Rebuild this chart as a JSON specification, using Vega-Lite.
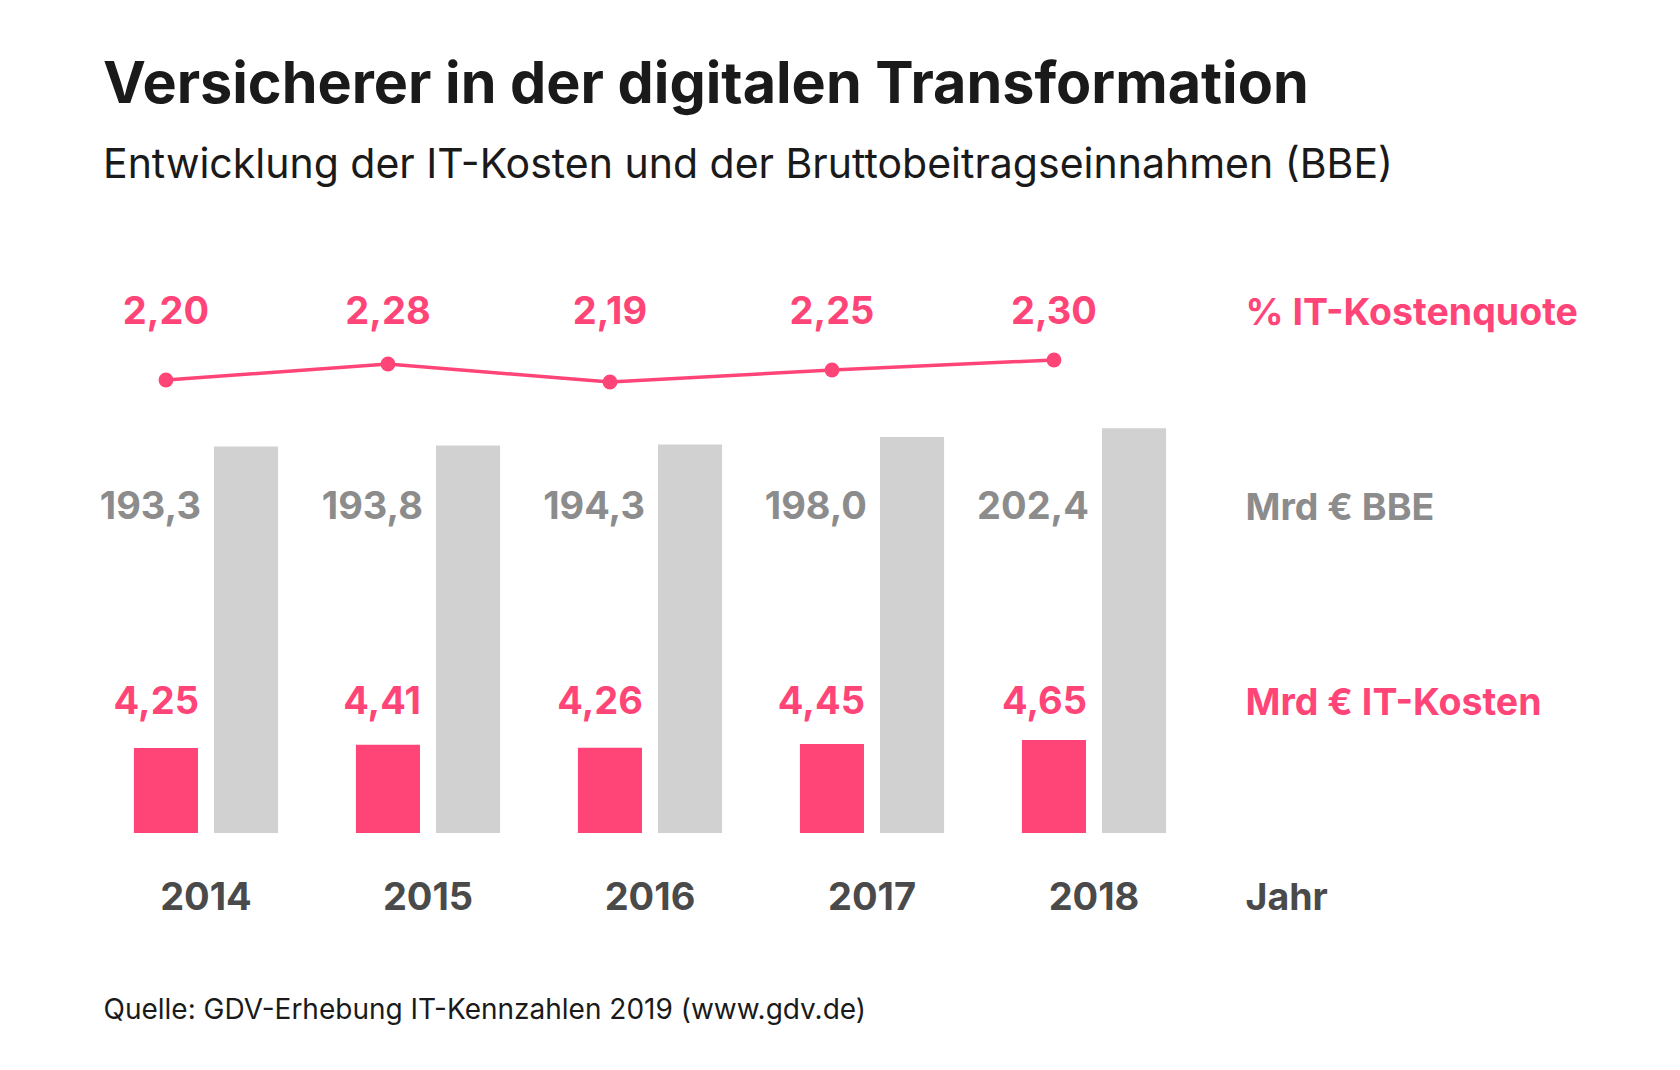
{
  "$schema": "https://vega.github.io/schema/vega-lite/v6.json",
  "autosize": "none",
  "width": 1245,
  "height": 668,
  "padding": {"left": 0, "top": 230, "right": 435, "bottom": 172},
  "background": "#ffffff",
  "title": {
    "text": "Versicherer in der digitalen Transformation",
    "subtitle": "Entwicklung der IT-Kosten und der Bruttobeitragseinnahmen (BBE)",
    "anchor": "start",
    "frame": "group",
    "dx": 103,
    "offset": 43,
    "subtitlePadding": 31,
    "font": "Inter",
    "fontSize": 57.5,
    "fontWeight": "bold",
    "color": "#1a1a1a",
    "subtitleFont": "Inter",
    "subtitleFontSize": 41,
    "subtitleFontWeight": "normal",
    "subtitleColor": "#1a1a1a"
  },
  "config": {
    "view": {"stroke": null},
    "font": "Inter",
    "locale": {"number": {"decimal": ",", "thousands": ".", "grouping": [3], "currency": ["", " €"]}}
  },
  "data": {
    "values": [
      {"Jahr": 2014, "Kennzahl": "% IT-Kostenquote", "Wert": 2.20},
      {"Jahr": 2015, "Kennzahl": "% IT-Kostenquote", "Wert": 2.28},
      {"Jahr": 2016, "Kennzahl": "% IT-Kostenquote", "Wert": 2.19},
      {"Jahr": 2017, "Kennzahl": "% IT-Kostenquote", "Wert": 2.25},
      {"Jahr": 2018, "Kennzahl": "% IT-Kostenquote", "Wert": 2.30},
      {"Jahr": 2014, "Kennzahl": "Mrd € BBE", "Wert": 193.3},
      {"Jahr": 2015, "Kennzahl": "Mrd € BBE", "Wert": 193.8},
      {"Jahr": 2016, "Kennzahl": "Mrd € BBE", "Wert": 194.3},
      {"Jahr": 2017, "Kennzahl": "Mrd € BBE", "Wert": 198.0},
      {"Jahr": 2018, "Kennzahl": "Mrd € BBE", "Wert": 202.4},
      {"Jahr": 2014, "Kennzahl": "Mrd € IT-Kosten", "Wert": 4.25},
      {"Jahr": 2015, "Kennzahl": "Mrd € IT-Kosten", "Wert": 4.41},
      {"Jahr": 2016, "Kennzahl": "Mrd € IT-Kosten", "Wert": 4.26},
      {"Jahr": 2017, "Kennzahl": "Mrd € IT-Kosten", "Wert": 4.45},
      {"Jahr": 2018, "Kennzahl": "Mrd € IT-Kosten", "Wert": 4.65}
    ]
  },
  "encoding": {
    "x": {
      "field": "Jahr",
      "type": "ordinal",
      "scale": {"domain": [2014, 2015, 2016, 2017, 2018], "range": [95, 1205], "paddingInner": 0, "paddingOuter": 0},
      "axis": {
        "title": "Quelle: GDV-Erhebung IT-Kennzahlen 2019 (www.gdv.de)",
        "orient": "bottom",
        "domain": false,
        "ticks": false,
        "tickSize": 0,
        "grid": false,
        "labelPadding": 0,
        "labelAngle": 0,
        "labelBaseline": "middle",
        "labelFont": "Inter",
        "labelFontSize": 38,
        "labelFontWeight": "bold",
        "labelColor": "#4a4a4a",
        "titleFont": "Inter",
        "titleFontSize": 28,
        "titleFontWeight": "normal",
        "titleColor": "#1a1a1a",
        "titleAnchor": "start",
        "titleAlign": "left",
        "titleBaseline": "alphabetic",
        "titleX": 103,
        "titleY": 120
      }
    }
  },
  "resolve": {"scale": {"y": "independent"}},
  "layer": [
    {
      "transform": [{"filter": "datum.Kennzahl === 'Mrd € IT-Kosten'"}],
      "mark": {"type": "bar", "color": "#ff4578"},
      "encoding": {
        "xOffset": {"field": "Kennzahl", "type": "nominal", "scale": {"domain": ["Mrd € IT-Kosten", "Mrd € BBE"], "paddingInner": 0.2, "paddingOuter": 0.486}},
        "y": {"field": "Wert", "type": "quantitative", "scale": {"domain": [0, 30.15], "range": [603, 0], "nice": false}, "axis": null}
      }
    },
    {
      "transform": [{"filter": "datum.Kennzahl === 'Mrd € BBE'"}],
      "mark": {"type": "bar", "color": "#d1d1d1"},
      "encoding": {
        "xOffset": {"field": "Kennzahl", "type": "nominal"},
        "y": {"field": "Wert", "type": "quantitative", "scale": {"domain": [0, 301.5], "range": [603, 0], "nice": false}, "axis": null}
      }
    },
    {
      "transform": [{"filter": "datum.Kennzahl === '% IT-Kostenquote'"}],
      "encoding": {
        "xOffset": {"datum": "Mrd € IT-Kosten", "type": "nominal"},
        "y": {"field": "Wert", "type": "quantitative", "scale": {"domain": [2.0, 2.4], "range": [190, 110], "nice": false, "zero": false}, "axis": null}
      },
      "layer": [
        {"mark": {"type": "line", "color": "#ff4578", "strokeWidth": 3.5}},
        {"mark": {"type": "circle", "color": "#ff4578", "opacity": 1, "size": 220}}
      ]
    },
    {
      "encoding": {
        "y": {
          "field": "Kennzahl",
          "type": "nominal",
          "scale": {"type": "point", "domain": ["% IT-Kostenquote", "Mrd € BBE", "Mrd € IT-Kosten", "Jahr"], "range": [83, 668], "padding": 0},
          "axis": {
            "orient": "right",
            "title": null,
            "domain": false,
            "ticks": false,
            "tickSize": 0,
            "grid": false,
            "labelPadding": 0,
            "labelAlign": "left",
            "labelBaseline": "middle",
            "labelLimit": 600,
            "labelFont": "Inter",
            "labelFontSize": 37.5,
            "labelFontWeight": "bold",
            "labelColor": {
              "condition": [
                {"test": "datum.value === 'Mrd € BBE'", "value": "#8c8c8c"},
                {"test": "datum.value === 'Jahr'", "value": "#4a4a4a"}
              ],
              "value": "#ff4578"
            }
          }
        }
      },
      "layer": [
        {
          "transform": [{"filter": "datum.Kennzahl === '% IT-Kostenquote'"}],
          "mark": {"type": "text", "align": "center", "baseline": "middle", "font": "Inter", "fontSize": 38, "fontWeight": "bold", "color": "#ff4578"},
          "encoding": {
            "xOffset": {"datum": "Mrd € IT-Kosten", "type": "nominal"},
            "text": {"field": "Wert", "type": "quantitative", "format": ".2f"}
          }
        },
        {
          "transform": [{"filter": "datum.Kennzahl === 'Mrd € BBE'"}],
          "mark": {"type": "text", "align": "right", "baseline": "middle", "dx": 35, "font": "Inter", "fontSize": 38, "fontWeight": "bold", "color": "#8c8c8c"},
          "encoding": {
            "xOffset": {"datum": "Mrd € IT-Kosten", "type": "nominal"},
            "text": {"field": "Wert", "type": "quantitative", "format": ".1f"}
          }
        },
        {
          "transform": [{"filter": "datum.Kennzahl === 'Mrd € IT-Kosten'"}],
          "mark": {"type": "text", "align": "right", "baseline": "middle", "dx": 33, "font": "Inter", "fontSize": 38, "fontWeight": "bold", "color": "#ff4578"},
          "encoding": {
            "xOffset": {"datum": "Mrd € IT-Kosten", "type": "nominal"},
            "text": {"field": "Wert", "type": "quantitative", "format": ".2f"}
          }
        }
      ]
    }
  ]
}
